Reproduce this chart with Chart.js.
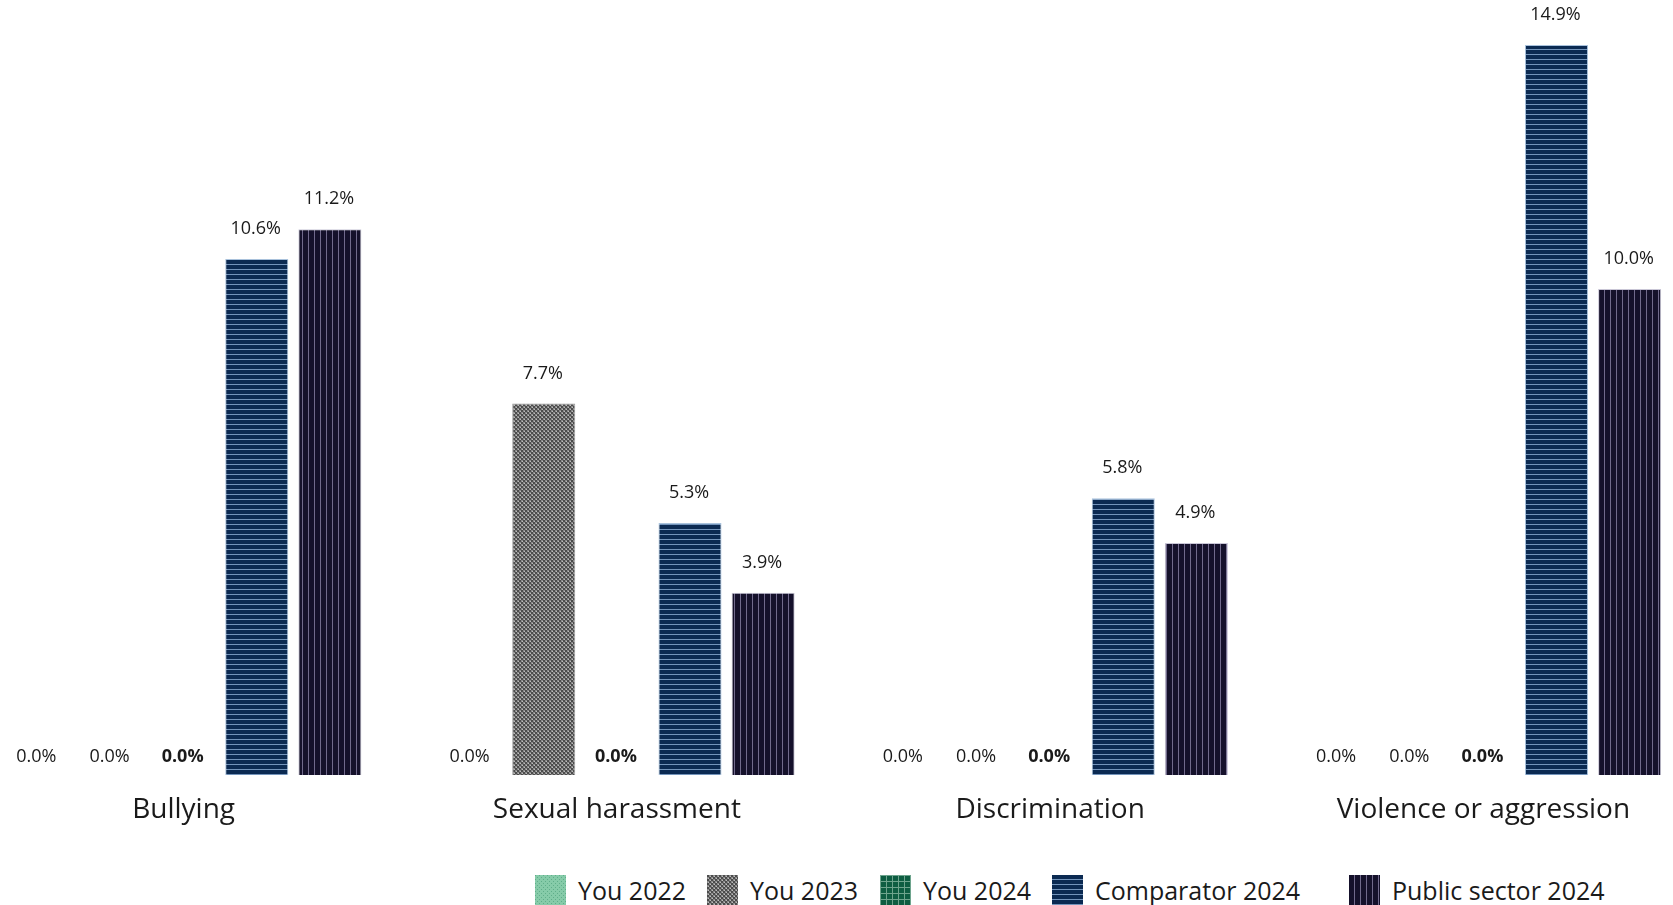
<!DOCTYPE html>
<html>
<head>
<meta charset="utf-8">
<script src="https://cdn.jsdelivr.net/npm/chart.js@4.4.1/dist/chart.umd.min.js"></script>
<style>
  html, body { margin: 0; padding: 0; background: #fff; }
  body { width: 1673px; height: 905px; overflow: hidden; position: relative; font-family: "Open Sans", sans-serif; }
  #wrap { position: absolute; left: -33px; top: 0; width: 1733px; height: 860px; }
  #legend { position: absolute; top: 875px; left: 0; width: 1673px; height: 31px; }
  .item { position: absolute; top: 0; display: flex; align-items: center; height: 31px; }
  .item canvas { width: 31px; height: 31px; margin-right: 12px; }
  .item span { font-size: 25px; color: #1a1a1a; white-space: nowrap; line-height: 31px; }
</style>
</head>
<body>
<div id="wrap"><canvas id="chart"></canvas></div>
<div id="legend"></div>
<script>
// --- DATA ---
const categories = ['Bullying', 'Sexual harassment', 'Discrimination', 'Violence or aggression'];
const seriesNames = ['You 2022', 'You 2023', 'You 2024', 'Comparator 2024', 'Public sector 2024'];

const you2022 = [0.0, 0.0, 0.0, 0.0];
const you2023 = [0.0, 7.7, 0.0, 0.0];
const you2024 = [0.0, 0.0, 0.0, 0.0];
const comparator2024 = [10.6, 5.3, 5.8, 14.9];
const publicSector2024 = [11.2, 3.9, 4.9, 10.0];

// --- PATTERNS ---
function makePattern(w, h, draw) {
  const c = document.createElement('canvas');
  c.width = w; c.height = h;
  draw(c.getContext('2d'));
  return c;
}

const tiles = [
  // You 2022: light green, small dots
  makePattern(4, 4, g => {
    g.fillStyle = '#86cba9'; g.fillRect(0, 0, 4, 4);
    g.fillStyle = '#5fae8a'; g.fillRect(0, 0, 1, 1); g.fillRect(2, 2, 1, 1);
  }),
  // You 2023: grey checker
  makePattern(4, 4, g => {
    g.fillStyle = '#8a8a8a'; g.fillRect(0, 0, 4, 4);
    g.fillStyle = '#4c4c4c'; g.fillRect(0, 0, 2, 2); g.fillRect(2, 2, 2, 2);
    g.fillStyle = '#bdbdbd'; g.fillRect(1, 3, 1, 1); g.fillRect(3, 1, 1, 1);
  }),
  // You 2024: dark green grid
  makePattern(6, 6, g => {
    g.fillStyle = '#0e5d42'; g.fillRect(0, 0, 6, 6);
    g.fillStyle = '#6ea48d'; g.fillRect(0, 0, 6, 1); g.fillRect(0, 0, 1, 6);
  }),
  // Comparator 2024: navy, horizontal lines
  makePattern(6, 5, g => {
    g.fillStyle = '#0b2a52'; g.fillRect(0, 0, 6, 5);
    g.fillStyle = '#7394bb'; g.fillRect(0, 4, 6, 1);
  }),
  // Public sector 2024: dark purple, vertical lines
  makePattern(6, 6, g => {
    g.fillStyle = '#15112b'; g.fillRect(0, 0, 6, 6);
    g.fillStyle = '#716a8c'; g.fillRect(5, 0, 1, 6);
  })
];

const ctx = document.getElementById('chart').getContext('2d');
const fills = tiles.map(t => ctx.createPattern(t, 'repeat'));
const borders = ['#86cba9', '#9a9a9a', '#6ea48d', '#a9c2dc', '#c9c6d6'];

// --- VALUE LABELS ---
const valueLabels = {
  id: 'valueLabels',
  afterDatasetsDraw(chart) {
    const c = chart.ctx;
    const y = chart.scales.y;
    chart.data.datasets.forEach((ds, i) => {
      chart.getDatasetMeta(i).data.forEach((bar, j) => {
        const v = ds.data[j];
        c.save();
        c.font = (i === 2 ? 'bold ' : '') + '18px "Open Sans", sans-serif';
        c.fillStyle = '#1a1a1a';
        c.textAlign = 'center';
        c.textBaseline = 'middle';
        c.fillText(v.toFixed(1) + '%', bar.x - 1, y.getPixelForValue(v) - 30);
        c.restore();
      });
    });
  }
};

// --- CHART ---
const seriesData = [you2022, you2023, you2024, comparator2024, publicSector2024];

new Chart(ctx, {
  type: 'bar',
  data: {
    labels: categories,
    datasets: seriesData.map((d, i) => ({
      label: seriesNames[i],
      data: d,
      backgroundColor: fills[i],
      borderColor: borders[i],
      borderWidth: 1,
      categoryPercentage: 0.844,
      barPercentage: 0.862
    }))
  },
  options: {
    responsive: true,
    maintainAspectRatio: false,
    animation: false,
    layout: { padding: { top: 40, left: 0, right: 0, bottom: 0 } },
    plugins: { legend: { display: false }, tooltip: { enabled: false } },
    scales: {
      x: {
        grid: { display: false, drawTicks: false },
        border: { display: false },
        ticks: { color: '#1a1a1a', padding: 18, font: { size: 28, family: '"Open Sans", sans-serif' } },
        afterFit(scale) { scale.height = 85; }
      },
      y: { display: false, min: 0.24, max: 15 }
    }
  },
  plugins: [valueLabels]
});

// --- LEGEND ---
const legendLeft = [535, 707, 880, 1052, 1349];
const legendEl = document.getElementById('legend');
seriesNames.forEach((name, i) => {
  const item = document.createElement('div');
  item.className = 'item';
  item.style.left = legendLeft[i] + 'px';
  const sw = document.createElement('canvas');
  sw.width = 31; sw.height = 31;
  const g = sw.getContext('2d');
  g.fillStyle = g.createPattern(tiles[i], 'repeat');
  g.fillRect(0, 0, 31, 31);
  const txt = document.createElement('span');
  txt.textContent = name;
  item.appendChild(sw);
  item.appendChild(txt);
  legendEl.appendChild(item);
});
</script>
</body>
</html>
